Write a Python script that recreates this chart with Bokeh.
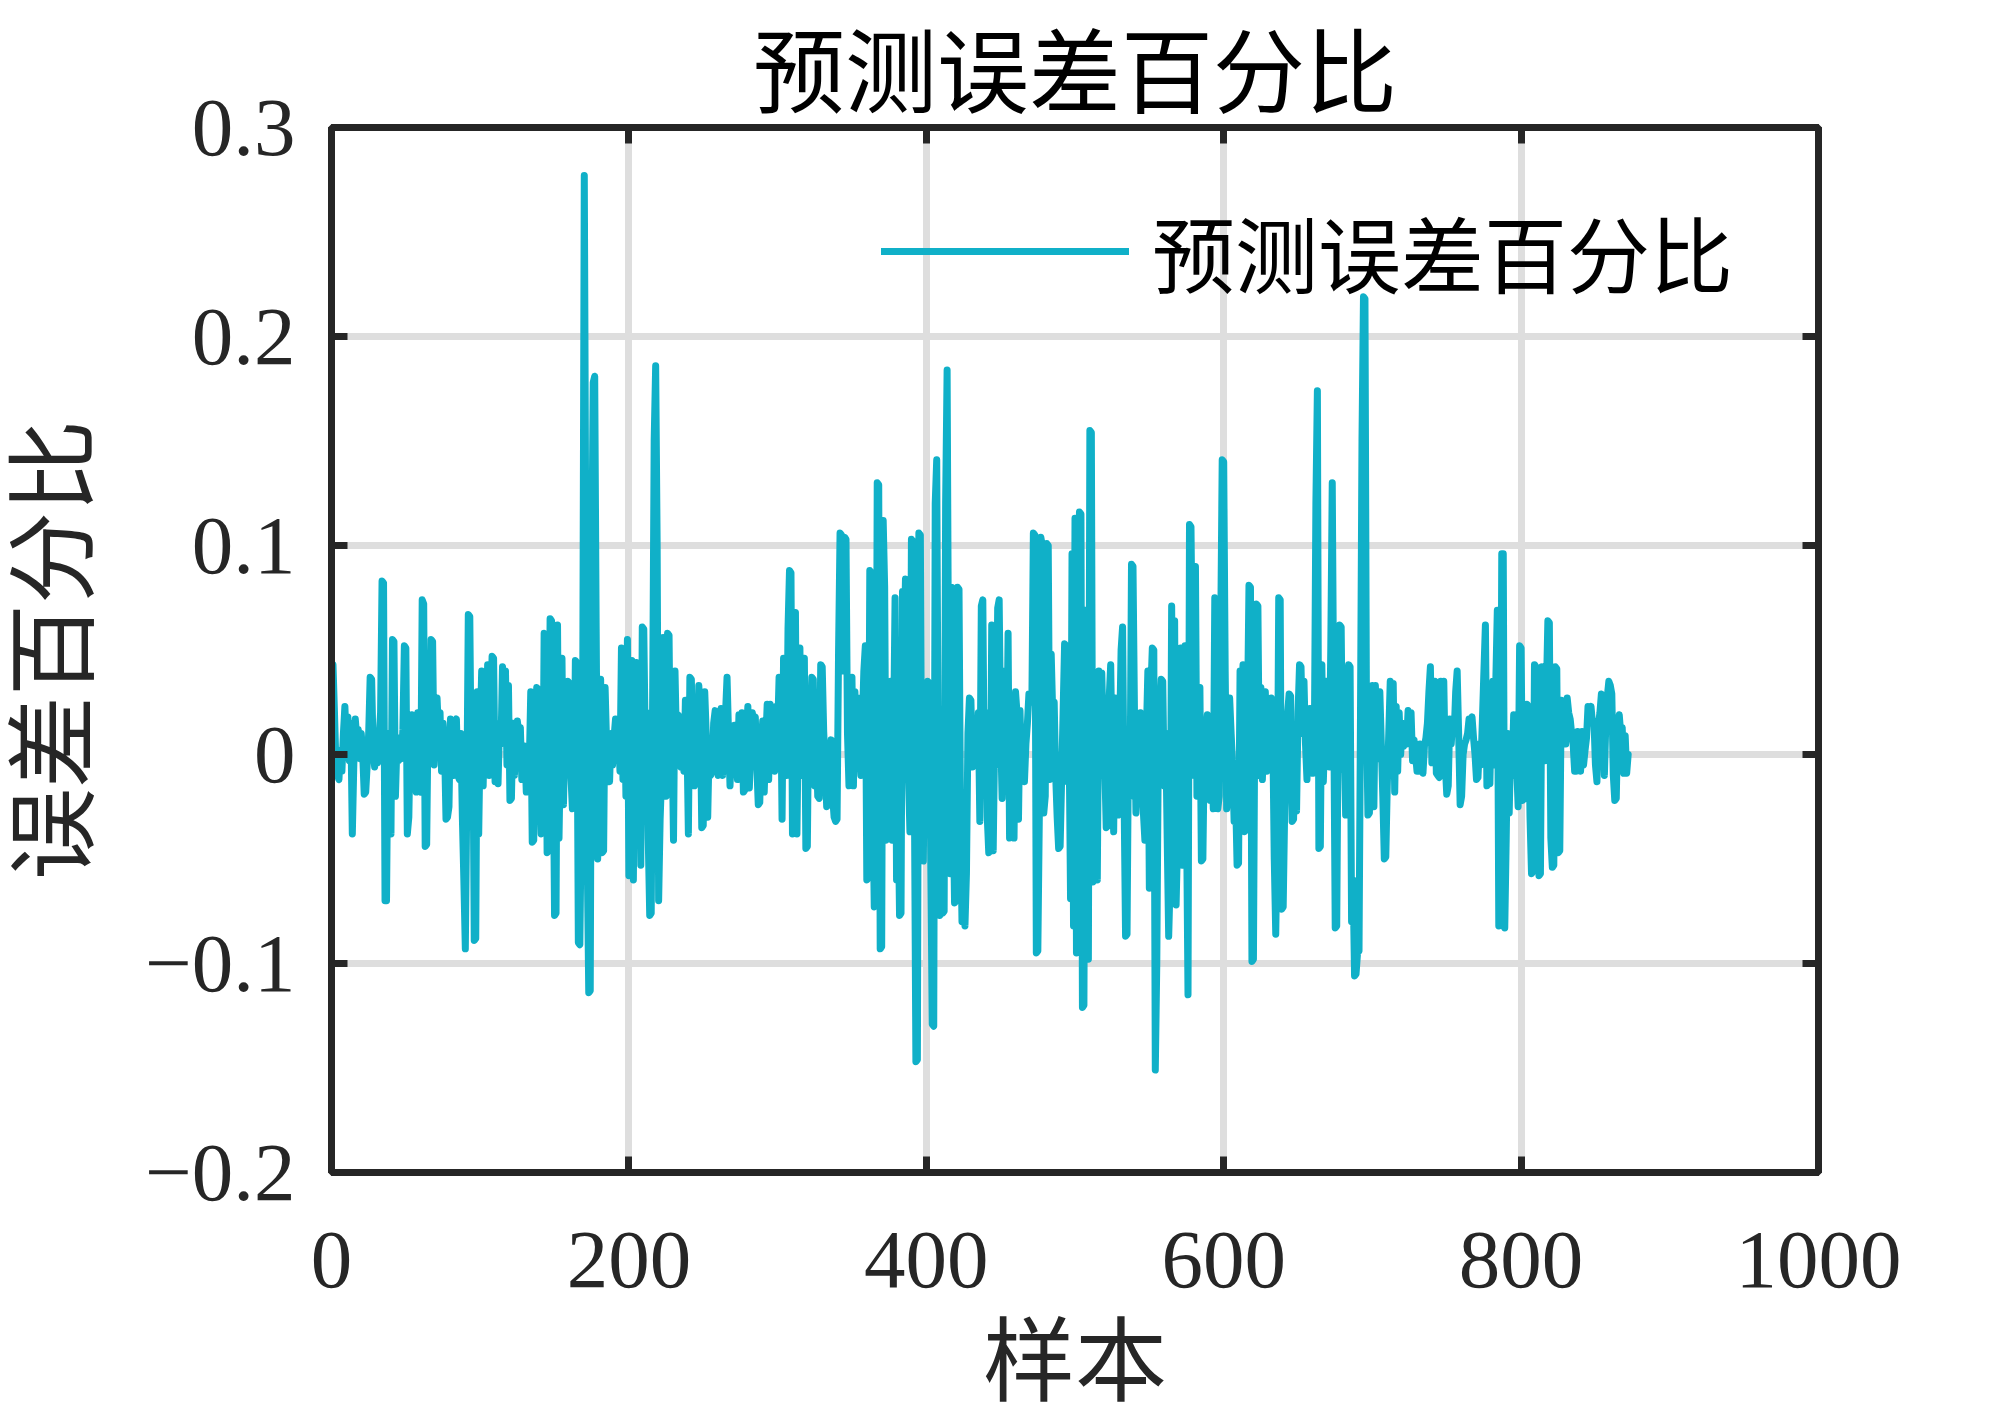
from bokeh.plotting import figure
from bokeh.models import (Range1d, FixedTicker, LinearAxis, Legend, LegendItem, ColumnDataSource,
                          Grid, CustomLabelingPolicy)
from bokeh.embed import file_html
from bokeh.resources import INLINE

# Prediction error percentage (values in thousandths)
seg_000 = [43, 20, -5, -10, -12, 2, -8, 10, 23, 5, 18, -3, 15, -38, -5, 17, 8, 12, -2, 10,
           0, -19, -18, -5, 10, 37, 36, 2, -6, 5, -4, 8, 20, 83, 82, -70, -70, 10, -10, -38,
           55, 54, -20, 5, -3, 8, -2, 12, 52, 51, -38, -30, 10, 19, 0, 5, -18, 20, -17, -18,
           74, 72, -44, -43, 20, 0, 55, 54, -5, 15, 27, 10, 20, -8, 15, 5, -31, -30, -25, 17,
           5, -10, 15, 17, -10, -12, 10]
seg_087 = [-30, -60, -93, -20, 67, 66, -10, 20, -89, -88, 30, -38, 10, 40, -15, 25, -5, 43, -10, 20,
           47, 46, -13, 10, -14, 15, 5, 42, 20, 40, -5, 33, -22, -21, 15, -10, 5, 16, 10, 13,
           -12, 2, 4, -18, 3, -5, 30, -42, -41, 10, 32, 31, -5, -38, -37, 58, 57, -47, -46, 65,
           64, 10, -77, -76, 62, -40, 5, 46, -24, 10, -5, 35, 34, -10, -26, -25, 45, 44, -90, -91,
           -30, 40, 277, 100, -50, -114, -113, 90]
seg_175 = [178, 181, 60, -50, 10, 36, -47, -46, 32, 5, -10, -13, 10, -5, 8, 17, 0, 10, -8, 51,
           -12, 30, -20, 55, -58, -57, 45, -60, 20, 44, -10, 30, -53, 61, 60, 5, 20, -40, -77, -76,
           30, 150, 186, 100, -70, -31, -10, 56, 10, -20, 58, 57, -13, 10, -41, 40, 5, 19, 18, -6,
           10, -8, 26, 10, -38, 37, 36, 0, -15, 10, -10, 33, 20, -35, -34, 30, 10, -30, 5, -10,
           -8, 15, 21, 20, -10, 5, 22]
seg_262 = [-10, 5, 20, 37, 10, -15, 5, -5, 14, 0, -12, 19, 5, 20, -18, -17, 10, 23, -16, 5,
           20, 15, 18, -5, -24, -23, 5, 16, -18, 5, 24, -12, 24, -5, 10, -8, 23, 10, 37, 36,
           -31, 46, 45, -10, 60, 88, 87, -38, -30, 68, -38, 20, 51, -10, 10, 46, -45, -44, 27, 10,
           37, 36, -15, 5, -20, -21, 43, 42, 11, -5, -25, -24, -5, 7, -20, -30, -32, -31, 50, 106,
           105, 40, 104, 103, 10, -15, -14, 37]
seg_350 = [-15, 30, -5, 27, 5, -10, 15, 40, 52, -60, -59, 88, 87, -20, -73, -72, 130, 129, -93, -92,
           112, 80, -41, -40, 20, 35, -41, 10, 75, -60, -20, -77, -76, 78, 50, 84, 83, -10, -37, 103,
           102, -20, -147, -146, 106, 105, -40, -51, 20, -5, 35, 34, -50, -129, -130, 120, 141, -10, -77, -40,
           -76, -75, 120, 184, 30, -57, 80, -20, -71, -70, 80, 79, -30, -80, -40, -82, -57, 10, 27, 26,
           -6, 10, 17, -5, 20, -32, 71]
seg_437 = [74, -10, 20, -30, -47, -46, 62, -46, 10, -5, 70, 74, 10, -21, 5, 40, -10, 58, -40, -39,
           10, -40, 30, 20, -31, 21, -5, 10, -13, 5, 15, 29, 28, 25, 106, 105, -95, -94, -30, 104,
           100, -28, -20, 101, 100, -12, 48, 20, 25, -10, -30, -45, -44, -12, 20, 53, 52, -13, 10, -69,
           96, -82, 113, -95, -60, 116, 115, -121, -120, 69, -20, -98, 155, 154, -61, -20, 5, -60, 40, -10,
           39, 10, -5, -35, -34, 27, 43, -5]
seg_525 = [-37, 27, 5, -29, 10, 50, 61, -20, -87, -86, 10, -20, 91, 90, 20, -28, -10, 15, 20, -5,
           -28, -41, 10, 40, -64, 30, 51, 50, -151, -100, 0, 20, 36, 35, -15, 10, -40, -87, -60, 71,
           -30, 64, -72, -40, 40, 51, -53, 30, 52, -30, -115, 110, 109, 40, -10, 90, -20, 10, 32, -51,
           -50, 5, 10, 19, -10, -22, 5, -26, 75, 74, -26, -20, 60, 141, 140, 40, -26, -10, 27, 10,
           -5, -32, -20, -53, -52, 40, 30]
seg_612 = [43, -37, -36, 20, 81, 80, -99, -98, 30, 72, 71, -10, 32, -12, 10, 30, -8, 15, 5, 27,
           10, -50, -86, -40, 75, 74, -74, -73, -27, 0, 20, 29, 28, -32, -31, 5, -27, 20, 43, 42,
           10, 35, 5, -12, 15, 22, -5, -9, 10, 120, 174, -45, -44, 43, -13, 10, 35, 34, -6, 50,
           130, 20, -83, -82, 20, 62, 61, -7, 10, -29, 5, 43, 42, -80, -60, -106, -105, -95, -94, 20,
           150, 219, 218, 20, -29, -28, 10, 33]
seg_700 = [-25, 33, 10, -2, 30, 5, -20, -50, -49, -15, 10, 35, 20, 34, -18, 23, -8, 20, 0, 15,
           4, 13, 5, 21, 10, 20, -3, 7, 0, -8, -8, 5, -6, -9, 4, 8, 15, 30, 42, -4,
           10, 35, -9, -10, -11, 35, 20, 35, -5, -19, -15, 17, 5, 16, 10, 30, 40, 10, -24, -20,
           0, 5, 7, 10, 17, 15, 18, 8, 0, -12, -11, 5, -5, 17, 40, 62, -15, -10, -14, 20,
           35, -5, 35, 69, -82, -60, 96]
seg_787 = [96, -83, -40, 10, -28, 5, -10, 19, 10, -5, -25, 52, 51, -22, -21, 5, 24, 23, -30, -57,
           -56, 43, 42, -20, -58, -57, 42, 10, -3, 30, 64, 63, -40, -54, -53, 42, 41, -47, -46, 26,
           10, 20, 5, 27, 20, 17, 10, 5, -8, -8, 11, 5, -8, 11, -5, 2, 8, 23, 20, 23,
           15, 16, -5, -13, 14, 20, 29, 27, -10, 15, 28, 35, 33, 29, -10, -22, -21, 15, 19, 10,
           13, -9, 9, -9, 0]

x_ticks = [0, 200, 400, 600, 800, 1000]
y_ticks = [-0.2, -0.1, 0, 0.1, 0.2, 0.3]
y_tick_labels = ["\u22120.2", "\u22120.1", "0", "0.1", "0.2", "0.3"]
title_text = "预测误差百分比"
x_label = "样本"
y_label = "误差百分比"
legend_label = "预测误差百分比"

errors = [v / 1000 for v in (seg_000 + seg_087 + seg_175 + seg_262 + seg_350 +
                             seg_437 + seg_525 + seg_612 + seg_700 + seg_787)]
samples = list(range(1, len(errors) + 1))

src = ColumnDataSource(dict(x=samples, y=errors))

CJK = "Noto Sans CJK SC"
MIXED = "Liberation Serif, Noto Sans CJK SC"
NUM = "Liberation Serif"
DARK = "#262626"
LINE = "#10B0C8"

p = figure(width=2008, height=1417, output_backend="svg", toolbar_location=None,
           x_range=Range1d(0, 1000), y_range=Range1d(-0.2, 0.3),
           min_border_left=331, min_border_right=190, min_border_top=127, min_border_bottom=245,
           x_axis_type=None, y_axis_type=None)

p.title.text = title_text
p.title.text_font = MIXED
p.title.text_font_size = "92px"
p.title.text_font_style = "normal"
p.title.text_color = "black"
p.title.align = "center"
p.title.standoff = 4

xt = FixedTicker(ticks=x_ticks, minor_ticks=[])
yt = FixedTicker(ticks=y_ticks, minor_ticks=[])

no_labels = CustomLabelingPolicy(code="""
try {
  const r = indices.clone();
  for (let i = 0; i < r.size; i++) r.unset(i);
  return r;
} catch (e) {
  return indices;
}
""")

def style(ax, show_labels):
    ax.axis_line_color = DARK
    ax.axis_line_width = 7
    ax.major_tick_in = 16
    ax.major_tick_out = 0
    ax.major_tick_line_color = DARK
    ax.major_tick_line_width = 7
    ax.minor_tick_line_color = None
    ax.major_label_text_font = NUM
    ax.major_label_text_font_size = "83px"
    ax.major_label_text_color = DARK
    ax.axis_label_text_font = MIXED
    ax.axis_label_text_font_size = "92px"
    ax.axis_label_text_font_style = "normal"
    ax.axis_label_text_color = DARK
    if not show_labels:
        ax.major_label_text_font_size = "0px"
        ax.major_label_standoff = 0
        ax.major_label_policy = no_labels

xb = LinearAxis(ticker=xt, axis_label=x_label)
style(xb, True)
xb.major_label_standoff = 60
xb.axis_label_standoff = 22
p.add_layout(xb, "below")

yl = LinearAxis(ticker=yt, axis_label=y_label,
                major_label_overrides={t: s for t, s in zip(y_ticks, y_tick_labels)})
style(yl, True)
yl.major_label_standoff = 36
yl.axis_label_standoff = 36
p.add_layout(yl, "left")

xa = LinearAxis(ticker=xt)
style(xa, False)
p.add_layout(xa, "above")
yr = LinearAxis(ticker=yt)
style(yr, False)
p.add_layout(yr, "right")

for g in (Grid(dimension=0, ticker=xt), Grid(dimension=1, ticker=yt)):
    g.grid_line_color = "#dedede"
    g.grid_line_width = 7
    p.add_layout(g, "center")

p.outline_line_color = DARK
p.outline_line_width = 7
p.background_fill_color = "white"
p.border_fill_color = "white"

r = p.line("x", "y", source=src, line_color=LINE, line_width=7,
           line_join="round", line_cap="round")

legend = Legend(items=[LegendItem(label=legend_label, renderers=[r])],
                location=(550, 861), orientation="vertical",
                padding=0, margin=0, spacing=0,
                glyph_width=248, glyph_height=60, label_standoff=23,
                label_text_font=CJK, label_text_font_size="83px",
                label_text_color="black",
                background_fill_alpha=0, border_line_alpha=0)
p.add_layout(legend, "center")

open("out.html", "w").write(file_html(p, INLINE))
